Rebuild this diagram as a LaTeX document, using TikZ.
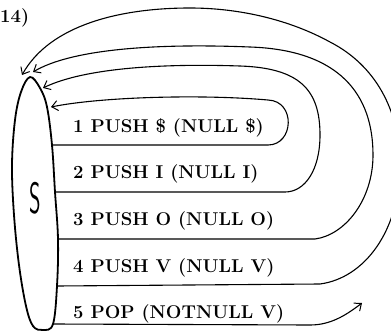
\documentclass[tikz,border=0pt]{standalone}
\usetikzlibrary{arrows.meta}
\begin{document}
\begin{tikzpicture}[x=1pt,y=-1pt,
  wire/.style={line width=1.1pt, line cap=round, line join=round},
  barb/.style={-{Straight Barb[length=6pt,width=10pt,line width=1pt]}},
  lbl/.style={anchor=base west, inner sep=0pt, font=\fontsize{18.5}{20}\selectfont\bfseries}]
\useasboundingbox (0,0) rectangle (391,332);

% points on the outline of the start-symbol oval
\coordinate (o1) at (52,145);
\coordinate (o2) at (55,192);
\coordinate (o3) at (58,239);
\coordinate (o4) at (57,286);
\coordinate (o5) at (53,324);

% arrow ends next to the top of the oval
\coordinate (a1) at (51,107);
\coordinate (a2) at (43,88);
\coordinate (a3) at (33,72);
\coordinate (a4) at (22,75);
\coordinate (a5) at (362,303);

% the oval
\draw[line width=1.8pt] plot[smooth cycle, tension=0.6] coordinates
  {(30,77) (40,88) (47,107) (o1) (o2) (o3) (o4) (o5) (43,330)
   (33,326) (26,306) (19,265) (14,215) (12,165) (15,120) (21,92)};
\node[font=\fontsize{44}{44}\selectfont\sffamily, xscale=0.5, inner sep=0pt] (S) at (35,198) {S};

\node[lbl] (n14) at (0,23) {14)};

% productions
\node[lbl] (p1) at (73,132) {1 PUSH \$ (NULL \$)};
\node[lbl] (p2) at (73,178) {2 PUSH I (NULL I)};
\node[lbl] (p3) at (73,225) {3 PUSH O (NULL O)};
\node[lbl] (p4) at (73,272) {4 PUSH V (NULL V)};
\node[lbl] (p5) at (73,318) {5 POP (NOTNULL V)};

% loops back to the oval
\draw[wire,barb] (o1) -- (268,145) .. controls (294,145) and (296,101) .. (268,100)
  .. controls (200,94) and (100,97) .. (a1);
\draw[wire,barb] (o2) -- (285,192) .. controls (305,192) and (320,170) .. (320,135)
  .. controls (320,90) and (300,68) .. (240,66)
  .. controls (150,63) and (80,70) .. (a2);
\draw[wire,barb] (o3) -- (315,239) .. controls (345,235) and (373,200) .. (373,155)
  .. controls (373,95) and (340,50) .. (250,47)
  .. controls (150,43) and (70,50) .. (a3);
\draw[wire,barb] (o4) -- (320,284) .. controls (365,278) and (400,230) .. (400,165)
  .. controls (400,110) and (375,65) .. (330,42)
  .. controls (290,20) and (240,8) .. (190,8)
  .. controls (120,8) and (50,25) .. (a4);
\draw[wire,barb] (o5) -- (310,325) .. controls (330,325) and (345,316) .. (a5);
\end{tikzpicture}
\end{document}
